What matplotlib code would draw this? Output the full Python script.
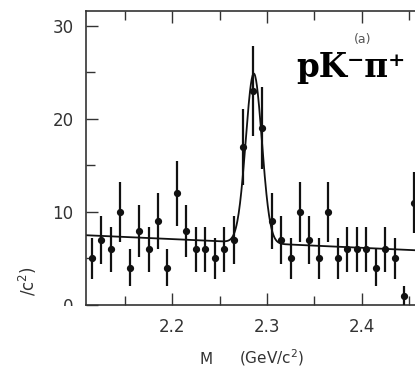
import numpy as np
import matplotlib
matplotlib.use("Agg")
import matplotlib.pyplot as plt
from matplotlib.patches import Rectangle

# bin centres (GeV/c^2), events per bin and their errors
mass = [2.115, 2.125, 2.135, 2.145, 2.155, 2.165, 2.175, 2.185, 2.195, 2.205,
        2.215, 2.225, 2.235, 2.245, 2.255, 2.265, 2.275, 2.285, 2.295, 2.305,
        2.315, 2.325, 2.335, 2.345, 2.355, 2.365, 2.375, 2.385, 2.395, 2.405,
        2.415, 2.425, 2.435, 2.445, 2.455]
counts = [5, 7, 6, 10, 4, 8, 6, 9, 4, 12,
          8, 6, 6, 5, 6, 7, 17, 23, 19, 9,
          7, 5, 10, 7, 5, 10, 5, 6, 6, 6,
          4, 6, 5, 1, 11]
errs = [2.2, 2.6, 2.4, 3.2, 2.0, 2.8, 2.4, 3.0, 2.0, 3.5,
        2.8, 2.4, 2.4, 2.2, 2.4, 2.6, 4.1, 4.8, 4.4, 3.0,
        2.6, 2.2, 3.2, 2.6, 2.2, 3.2, 2.2, 2.4, 2.4, 2.4,
        2.0, 2.4, 2.2, 1.0, 3.3]

# fit: linear background + gaussian peak
BG_LEFT, BG_RIGHT = 7.5, 5.8      # background at x-limits
PEAK_M, PEAK_SIG, PEAK_AMP = 2.2862, 0.0085, 18.2
XLIM = (2.109, 2.475)
YLIM = (0, 31.6)

INK = "#111111"
AX = "#333333"

W, H = 415, 371
fig = plt.figure(figsize=(W / 100, H / 100), dpi=100)
fig.patch.set_facecolor("white")

x0, y_top, y_bot = 86, 11, 305
ax_w = (XLIM[1] - XLIM[0]) * 947
ax = fig.add_axes([x0 / W, 1 - y_bot / H, ax_w / W, (y_bot - y_top) / H])

mm = np.linspace(XLIM[0], XLIM[1], 800)
bg = BG_LEFT + (BG_RIGHT - BG_LEFT) * (mm - XLIM[0]) / (XLIM[1] - XLIM[0])
fit = bg + PEAK_AMP * np.exp(-0.5 * ((mm - PEAK_M) / PEAK_SIG) ** 2)
ax.plot(mm, fit, color=INK, lw=1.3, zorder=2)

ax.errorbar(mass, counts, yerr=errs, fmt="o", color=INK, ms=4.2,
            elinewidth=1.6, capsize=0, zorder=3)

ax.set_xlim(*XLIM)
ax.set_ylim(*YLIM)
ax.set_xticks([2.2, 2.3, 2.4])
ax.set_xticks([2.15, 2.25, 2.35, 2.45], minor=True)
ax.set_yticks([0, 10, 20, 30])
ax.set_yticks([5, 15, 25], minor=True)
ax.set_yticklabels(["0", "10", "20", "30"])
ax.tick_params(which="both", direction="in", top=True, right=False,
               colors=AX, width=1.0, labelsize=12, labelcolor=AX, pad=9)
ax.tick_params(which="major", length=8.5)
ax.tick_params(which="minor", length=6.5)
for sp in ax.spines.values():
    sp.set_color(AX)
    sp.set_linewidth(1.2)

fig.text(363 / W, 1 - 40 / H, "(a)", ha="center", va="center",
         fontsize=9, color="#555555")
fig.text(296 / W, 1 - 77 / H, "pK⁻π⁺", ha="left", va="baseline",
         fontsize=23.5, fontweight="bold", family="DejaVu Serif",
         color="black")

# axis labels
fig.text(206 / W, 1 - 360 / H, "M", ha="center", va="center",
         fontsize=11, color=AX)
fig.text(272 / W, 1 - 358 / H, "(GeV/c$^2$)", ha="center", va="center",
         fontsize=11, color=AX)
fig.text(28 / W, 1 - 266 / H, "/c$^2$)", ha="center", va="top",
         rotation=90, fontsize=12, color=AX)

# blank band that hides the lower part of the left labels
fig.patches.append(Rectangle((0, 0), 84 / W, 1 - 306 / H,
                             transform=fig.transFigure, facecolor="white",
                             edgecolor="none", zorder=10))

fig.savefig("out.png", dpi=100, facecolor="white")
